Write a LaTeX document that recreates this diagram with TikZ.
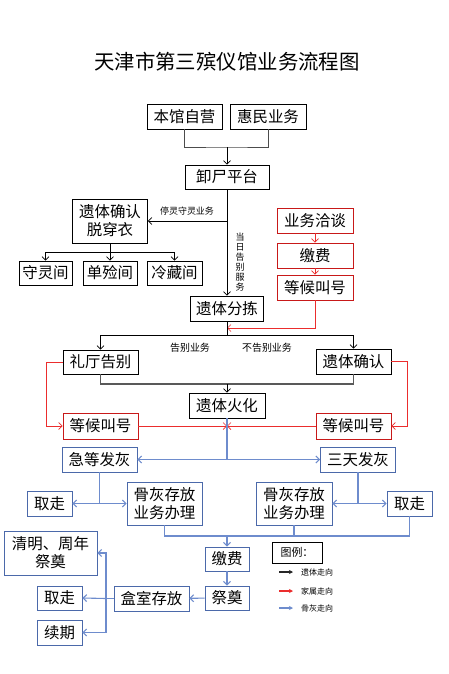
\documentclass[tikz,border=0pt]{standalone}
\usepackage{fontspec}
\setmainfont{Noto Sans CJK SC}
\usetikzlibrary{arrows.meta,calc}

\definecolor{hongxian}{RGB}{235,45,45}
\definecolor{hongkuang}{RGB}{200,25,25}
\definecolor{lanxian}{RGB}{110,140,205}
\definecolor{lankuang}{RGB}{75,105,170}

\tikzset{
  box/.style={draw, line width=0.8bp, inner sep=0pt, minimum height=25bp, align=center,
    font=\fontsize{15.5}{18}\selectfont},
  rbox/.style={box, draw=hongkuang},
  bbox/.style={box, draw=lankuang},
  lab/.style={inner sep=0pt, font=\fontsize{9}{10}\selectfont},
  hei/.style={-{Straight Barb[length=3.5bp,width=7bp]}, line width=0.7bp},
  hong/.style={hei, draw=hongxian},
  lan/.style={hei, draw=lanxian, line width=1.1bp},
  tuli/.style={-{Stealth[length=4bp,width=4bp]}, line width=1.3bp}
}

\begin{document}
\begin{tikzpicture}[x=1bp,y=-1bp]
\fill[white] (0,0) rectangle (449,674);
\useasboundingbox (0,0) rectangle (449,674);

\node[font=\fontsize{20.5}{24}\selectfont] (title) at (227,62) {天津市第三殡仪馆业务流程图};

\node[box, minimum width=75bp] (bgzy) at (184.5,116.5) {本馆自营};
\node[box, minimum width=76bp] (hmyw) at (268,116.5) {惠民业务};
\node[box, minimum width=84bp, minimum height=24bp] (xspt) at (227,177) {卸尸平台};
\node[box, minimum width=75bp, minimum height=44bp] (ytqr) at (110,221) {遗体确认\\脱穿衣};
\node[box, minimum width=53bp, minimum height=24bp] (slj) at (45.5,273) {守灵间};
\node[box, minimum width=54bp, minimum height=24bp] (dlj) at (110,273) {单殓间};
\node[box, minimum width=55bp, minimum height=24bp] (lcj) at (174.5,273) {冷藏间};

\node[rbox, minimum width=76bp] (ywqt) at (315,220.5) {业务洽谈};
\node[rbox, minimum width=76bp] (jfh) at (315,255.5) {缴费};
\node[rbox, minimum width=76bp] (dhs) at (315,287.5) {等候叫号};

\node[box, minimum width=73bp] (ytfj) at (227,308.5) {遗体分拣};
\node[box, minimum width=75bp, minimum height=24bp] (ltgb) at (100.5,362) {礼厅告别};
\node[box, minimum width=75bp] (ytqy) at (353.5,361.5) {遗体确认};
\node[box, minimum width=76bp] (ythh) at (227,405.5) {遗体火化};
\node[rbox, minimum width=75bp, minimum height=26bp] (dhl) at (100.5,426) {等候叫号};
\node[rbox, minimum width=75bp, minimum height=26bp] (dhr) at (353.5,426) {等候叫号};

\node[bbox, minimum width=75bp] (jdfh) at (99.5,459.5) {急等发灰};
\node[bbox, minimum width=75bp] (stfh) at (358,459.5) {三天发灰};
\node[bbox, minimum width=45bp] (qzl) at (49.5,503.5) {取走};
\node[bbox, minimum width=75bp, minimum height=43bp] (ghl) at (164.5,503.5) {骨灰存放\\业务办理};
\node[bbox, minimum width=76bp, minimum height=43bp] (ghr) at (294,503.5) {骨灰存放\\业务办理};
\node[bbox, minimum width=45bp] (qzr) at (409.5,503.5) {取走};
\node[bbox, minimum width=44bp, minimum height=24bp] (jfl) at (227,559) {缴费};
\node[bbox, minimum width=44bp, minimum height=24bp] (jdian) at (227,598) {祭奠};
\node[bbox, minimum width=75bp] (hscf) at (151.5,598.5) {盒室存放};
\node[bbox, minimum width=93bp, minimum height=44bp] (qmzn) at (50.5,553) {清明、周年\\祭奠};
\node[bbox, minimum width=45bp, minimum height=24bp] (qzx) at (59.5,598) {取走};
\node[bbox, minimum width=45bp] (xuqi) at (59.5,632.5) {续期};

\node[lab, rotate=0, align=center, font=\fontsize{9}{10}\selectfont] (drgb) at (240,262) {当\\日\\告\\别\\服\\务};
\node[lab] (tlsl) at (187,211) {停灵守灵业务};
\node[lab, font=\fontsize{10}{11}\selectfont] (gbyw) at (190,348) {告别业务};
\node[lab, font=\fontsize{10}{11}\selectfont] (bgbyw) at (267,348) {不告别业务};

\coordinate (j1) at (227,147);
\coordinate (j2) at (227,221);
\coordinate (j3) at (110,252);
\coordinate (j4) at (227,328);
\coordinate (j5) at (227,335);
\coordinate (j6) at (227,384);
\coordinate (j7) at (227,426);
\coordinate (j8) at (227,459.5);
\coordinate (j9) at (99.5,503.5);
\coordinate (j10) at (358,503.5);
\coordinate (j11) at (227,536);
\coordinate (j12) at (106,598.5);

\draw[line width=0.9bp, draw=black!70] (bgzy.south) |- (j1) -| (hmyw.south);
\draw[hei] (j1) -- (xspt.north);
\draw[hei] (xspt.south) -- (ytfj.north);
\draw[hei] (j2) -- (ytqr.east);
\draw[line width=0.7bp] (ytqr.south) -- (j3);
\draw[hei] (j3) -| (slj.north);
\draw[hei] (j3) -| (lcj.north);
\draw[hei] (j3) -- (dlj.north);

\draw[hong] (ywqt) -- (jfh);
\draw[hong] (jfh) -- (dhs);
\draw[hong] (dhs.south) |- (j4);

\draw[line width=0.7bp] (ytfj.south) -- (j5);
\draw[hei] (j5) -| (ltgb.north);
\draw[hei] (j5) -| (ytqy.north);
\draw[line width=1.1bp, draw=black!65] (ltgb.south) |- (j6) -| (ytqy.south);
\draw[hei] (j6) -- (ythh.north);

\draw[hong] (ltgb.west) -- ++(-16,0) |- (dhl.west);
\draw[hong] (ytqy.east) -- ++(16,0) |- (dhr.east);
\draw[hong] (dhl.east) -- (j7);
\draw[hong] (dhr.west) -- (j7);

\draw[lan, -] (ythh.south) -- (j8);
\draw[lan] (j8) -- (jdfh.east);
\draw[lan] (j8) -- (stfh.west);
\draw[lan, -] (jdfh.south) -- (j9);
\draw[lan] (j9) -- (qzl.east);
\draw[lan] (j9) -- (ghl.west);
\draw[lan, -] (stfh.south) -- (j10);
\draw[lan] (j10) -- (ghr.east);
\draw[lan] (j10) -- (qzr.west);

\draw[lan, -] (ghl.south) |- (j11);
\draw[lan, -] (qzr.south) |- (j11);
\draw[lan, -] (ghr.south) -- (ghr.south |- j11);
\draw[lan] (j11) -- (jfl.north);
\draw[lan] (jfl) -- (jdian);
\draw[lan] (jdian) -- (hscf);
\draw[lan, -] (hscf.west) -- (j12);
\draw[lan] (j12) -- (qzx.east);
\draw[lan] (j12) |- (qmzn.east);
\draw[lan] (j12) |- (xuqi.east);

\node[box, minimum width=50bp, minimum height=21bp, font=\fontsize{11}{13}\selectfont] (tuli) at (297,552.5) {图例：};
\node[lab, anchor=west, font=\fontsize{8}{9}\selectfont] (lg1) at (301,572) {遗体走向};
\node[lab, anchor=west, font=\fontsize{8}{9}\selectfont] (lg2) at (301,591) {家属走向};
\node[lab, anchor=west, font=\fontsize{8}{9}\selectfont] (lg3) at (301,608) {骨灰走向};
\draw[tuli, draw=black!85] ([xshift=-22bp]lg1.west) -- ([xshift=-8bp]lg1.west);
\draw[tuli, draw=hongxian] ([xshift=-22bp]lg2.west) -- ([xshift=-8bp]lg2.west);
\draw[tuli, draw=lanxian] ([xshift=-22bp]lg3.west) -- ([xshift=-8bp]lg3.west);
\end{tikzpicture}
\end{document}
